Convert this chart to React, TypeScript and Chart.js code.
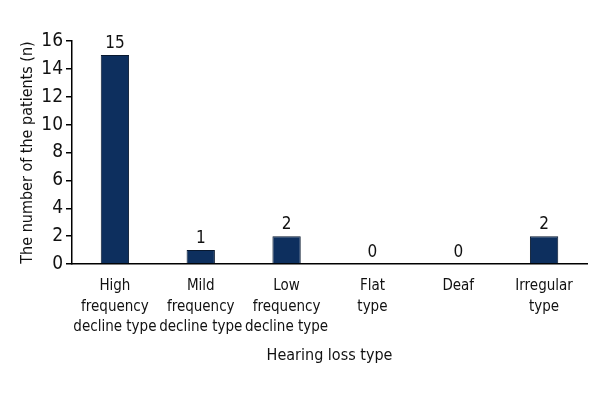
import React, { useEffect, useRef } from "react";
import { Chart, registerables } from "chart.js";

Chart.register(...registerables);

const categories: string[][] = [
  ["High", "frequency", "decline type"],
  ["Mild", "frequency", "decline type"],
  ["Low", "frequency", "decline type"],
  ["Flat", "type"],
  ["Deaf"],
  ["Irregular", "type"],
];
const patientCounts: number[] = [15, 1, 2, 0, 0, 2];
const yTicks: number[] = [0, 2, 4, 6, 8, 10, 12, 14, 16];

const FONT = "'Liberation Sans Narrow', 'DejaVu Sans Condensed', 'Roboto Condensed', sans-serif";

const labelPlugin = {
  id: "barValueLabels",
  afterDatasetsDraw(chart: any) {
    const ctx = chart.ctx;
    const meta = chart.getDatasetMeta(0);
    ctx.save();
    ctx.font = `17px ${FONT}`;
    ctx.fillStyle = "#111";
    ctx.textAlign = "center";
    ctx.textBaseline = "bottom";
    meta.data.forEach((bar: any, i: number) => {
      ctx.fillText(String(patientCounts[i]), bar.x, bar.y - 3);
    });
    ctx.restore();
  },
};

export default function App() {
  const ref = useRef<HTMLCanvasElement | null>(null);
  useEffect(() => {
    if (!ref.current) return;
    const chart = new Chart(ref.current, {
      type: "bar",
      data: {
        labels: categories,
        datasets: [
          {
            data: patientCounts,
            backgroundColor: "#0d2f5e",
            borderColor: "#08182f",
            borderWidth: 1,
            barPercentage: 0.33,
            categoryPercentage: 1,
          },
        ],
      },
      options: {
        animation: false,
        responsive: false,
        layout: { padding: { top: 41, right: 13, left: 0, bottom: 0 } },
        plugins: { legend: { display: false }, tooltip: { enabled: false } },
        scales: {
          x: {
            grid: { display: false, drawTicks: false },
            border: { display: true, color: "#000", width: 1.5 },
            ticks: {
              color: "#111",
              font: { family: FONT, size: 15, lineHeight: 1.37 },
              padding: 12,
              maxRotation: 0,
              autoSkip: false,
            },
            title: {
              display: true,
              text: "Hearing loss type",
              color: "#111",
              font: { family: FONT, size: 16 },
              padding: { top: 8, bottom: 35 },
            },
            afterFit: (s: any) => {
              s.height = 136;
            },
          },
          y: {
            min: 0,
            max: 16,
            afterBuildTicks: (s: any) => {
              s.ticks = yTicks.map((v) => ({ value: v }));
            },
            grid: { display: true, drawOnChartArea: false, drawTicks: true, tickLength: 6, color: "#000", lineWidth: 1.5 },
            border: { display: true, color: "#000", width: 1.5 },
            ticks: { color: "#111", font: { family: FONT, size: 19 }, padding: 3 },
            title: {
              display: true,
              text: "The number of the patients (n)",
              color: "#111",
              font: { family: FONT, size: 16 },
              padding: { top: 18, bottom: 0 },
            },
            afterFit: (s: any) => {
              s.width = 72;
            },
          },
        },
      },
      plugins: [labelPlugin],
    });
    return () => chart.destroy();
  }, []);
  return (
    <div style={{ position: "fixed", left: 0, top: 0, width: 600, height: 400, background: "#fff" }}>
      <canvas ref={ref} width={600} height={400} style={{ width: 600, height: 400 }} />
    </div>
  );
}
